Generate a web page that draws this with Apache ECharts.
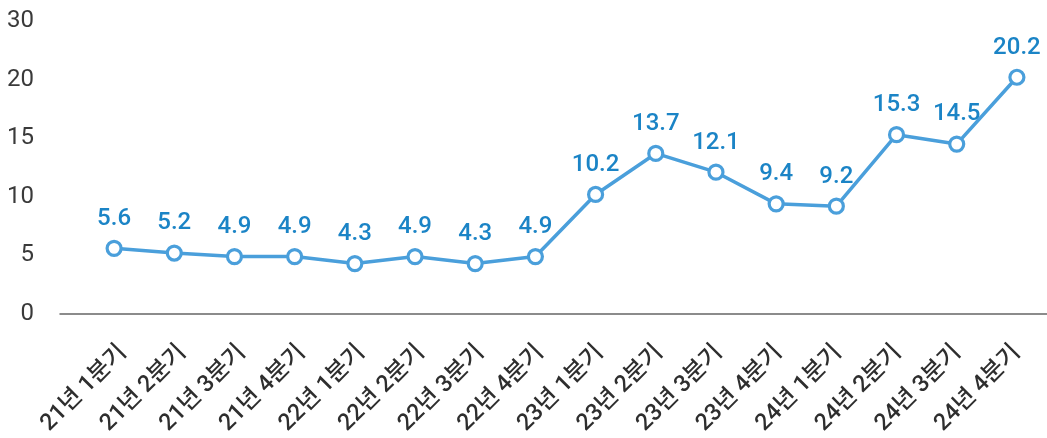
<!DOCTYPE html>
<html>
<head>
<meta charset="utf-8">
<script src="https://cdn.jsdelivr.net/npm/echarts@6/dist/echarts.min.js"></script>
<style>html,body{margin:0;padding:0;background:#fff;}#c{width:1047px;height:438px;}</style>
</head>
<body>
<div id="c"></div>
<script>
const categories = ['21년 1분기','21년 2분기','21년 3분기','21년 4분기','22년 1분기','22년 2분기','22년 3분기','22년 4분기','23년 1분기','23년 2분기','23년 3분기','23년 4분기','24년 1분기','24년 2분기','24년 3분기','24년 4분기'];
const values = [5.6, 5.2, 4.9, 4.9, 4.3, 4.9, 4.3, 4.9, 10.2, 13.7, 12.1, 9.4, 9.2, 15.3, 14.5, 20.2];
const yTickValues = [0, 5, 10, 15, 20, 25];
const yTickLabels = ['0', '5', '10', '15', '20', '30'];

const FONT = 'Roboto, "Noto Sans CJK KR", sans-serif';
const chart = echarts.init(document.getElementById('c'), null, {renderer: 'canvas'});
const TOP = 21, BOTTOM = 124;
chart.setOption({
  animation: false,
  grid: [
    {left: 84, right: 0, top: TOP, bottom: BOTTOM},
    {left: 60, right: 0, top: TOP, bottom: BOTTOM},
    {left: 93.5, right: -9.5, top: TOP, bottom: BOTTOM}
  ],
  xAxis: [
    {gridIndex: 0, type: 'category', data: categories, boundaryGap: true,
     axisLine: {show: false}, axisTick: {show: false}, axisLabel: {show: false}, splitLine: {show: false}},
    {gridIndex: 1, type: 'category', data: categories, boundaryGap: true,
     axisLine: {show: true, lineStyle: {color: '#666', width: 1.5}}, axisTick: {show: false}, axisLabel: {show: false}, splitLine: {show: false}},
    {gridIndex: 2, type: 'category', data: categories, boundaryGap: true,
     axisLine: {show: false}, axisTick: {show: false}, splitLine: {show: false},
     axisLabel: {show: true, interval: 0, rotate: 45, margin: 36, color: '#2e2e2e', fontSize: 23.5, fontWeight: 500, fontFamily: FONT}}
  ],
  yAxis: [
    {gridIndex: 0, type: 'value', min: 0, max: 25, interval: 5,
     axisLine: {show: false}, axisTick: {show: false}, splitLine: {show: false},
     axisLabel: {margin: 50, color: '#3a3a3a', fontSize: 24, fontFamily: FONT,
       formatter: v => yTickLabels[yTickValues.indexOf(v)]}},
    {gridIndex: 1, type: 'value', min: 0, max: 25, interval: 5, show: false},
    {gridIndex: 2, type: 'value', min: 0, max: 25, interval: 5, show: false}
  ],
  series: [{
    type: 'line', xAxisIndex: 0, yAxisIndex: 0, data: values,
    symbol: 'circle', symbolSize: 14,
    lineStyle: {color: '#4a9fdb', width: 3.5},
    itemStyle: {color: '#fff', borderColor: '#4a9fdb', borderWidth: 3.2},
    label: {show: true, position: 'top', distance: 9, color: '#1b84c6', fontSize: 24, fontWeight: 500, fontFamily: FONT,
      formatter: p => p.value.toFixed(1)}
  }]
});
</script>
</body>
</html>
